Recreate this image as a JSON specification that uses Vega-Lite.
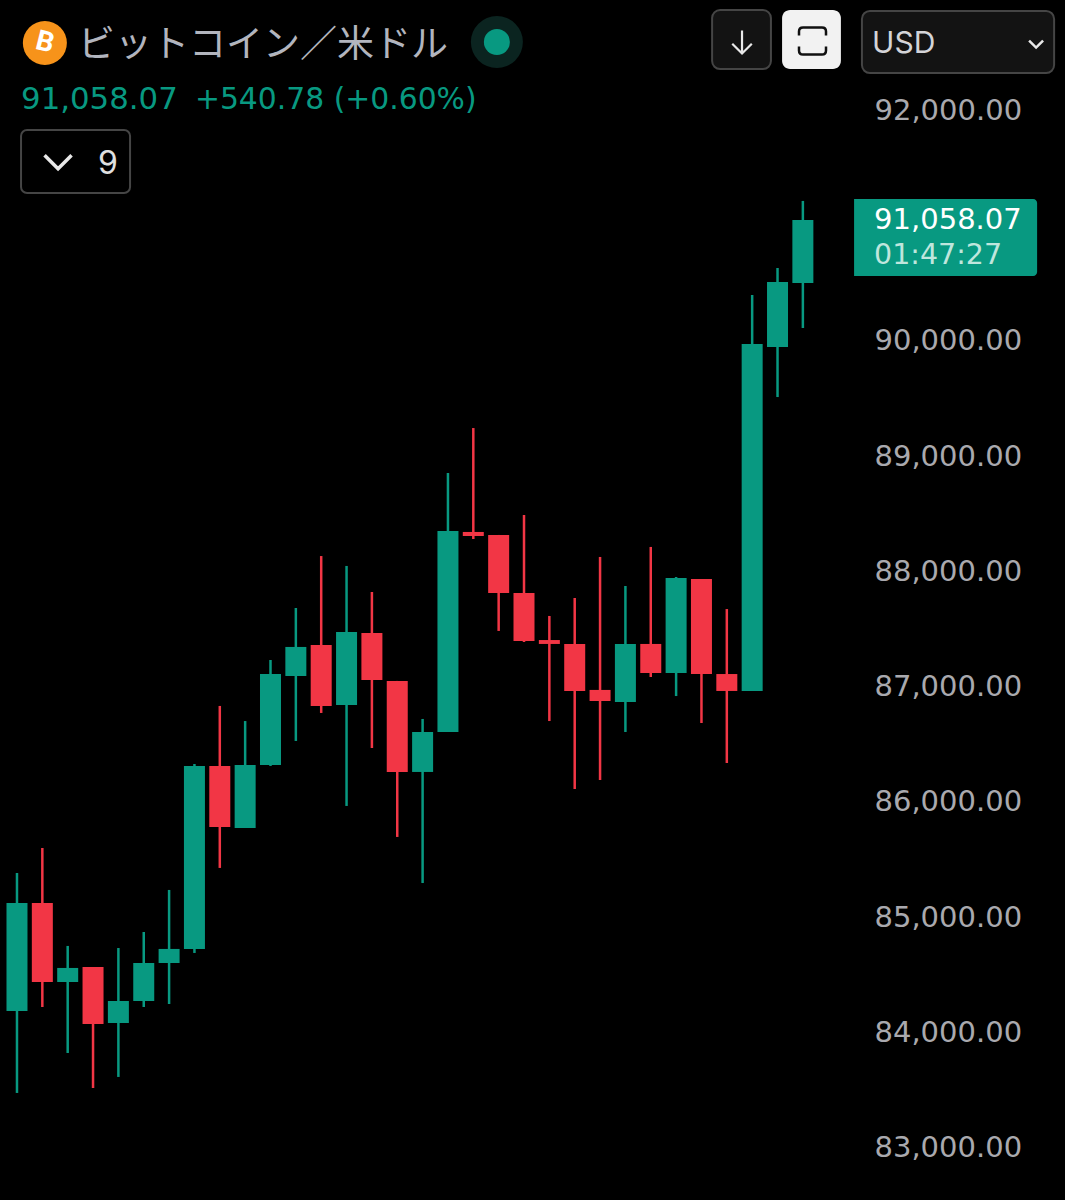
{
  "$schema": "https://vega.github.io/schema/vega-lite/v6.json",
  "width": 1065,
  "height": 1200,
  "autosize": {"type": "none"},
  "padding": 0,
  "background": "#000000",
  "view": {"stroke": null},
  "title": {
    "text": "ビットコイン／米ドル",
    "anchor": "start",
    "frame": "group",
    "orient": "top",
    "offset": 0,
    "dx": 78,
    "dy": 83,
    "baseline": "middle",
    "font": "Noto Sans CJK JP",
    "fontSize": 37,
    "fontWeight": "normal",
    "color": "#b2b5be"
  },
  "datasets": {
    "candles": [
      {"t": 0, "open": 84172, "high": 85369, "low": 83460, "close": 85109},
      {"t": 1, "open": 85109, "high": 85586, "low": 84206, "close": 84423},
      {"t": 2, "open": 84423, "high": 84736, "low": 83807, "close": 84545},
      {"t": 3, "open": 84553, "high": 84553, "low": 83503, "close": 84059},
      {"t": 4, "open": 84067, "high": 84718, "low": 83599, "close": 84258},
      {"t": 5, "open": 84258, "high": 84857, "low": 84206, "close": 84588},
      {"t": 6, "open": 84588, "high": 85222, "low": 84232, "close": 84710},
      {"t": 7, "open": 84710, "high": 86315, "low": 84675, "close": 86298},
      {"t": 8, "open": 86298, "high": 86819, "low": 85413, "close": 85768},
      {"t": 9, "open": 85760, "high": 86688, "low": 85760, "close": 86307},
      {"t": 10, "open": 86307, "high": 87218, "low": 86298, "close": 87096},
      {"t": 11, "open": 87079, "high": 87669, "low": 86515, "close": 87331},
      {"t": 12, "open": 87348, "high": 88120, "low": 86758, "close": 86819},
      {"t": 13, "open": 86827, "high": 88034, "low": 85951, "close": 87461},
      {"t": 14, "open": 87452, "high": 87808, "low": 86454, "close": 87044},
      {"t": 15, "open": 87036, "high": 87036, "low": 85682, "close": 86246},
      {"t": 16, "open": 86246, "high": 86706, "low": 85282, "close": 86593},
      {"t": 17, "open": 86593, "high": 88841, "low": 86593, "close": 88337},
      {"t": 18, "open": 88329, "high": 89231, "low": 88268, "close": 88294},
      {"t": 19, "open": 88303, "high": 88303, "low": 87470, "close": 87799},
      {"t": 20, "open": 87799, "high": 88476, "low": 87374, "close": 87383},
      {"t": 21, "open": 87391, "high": 87600, "low": 86688, "close": 87357},
      {"t": 22, "open": 87357, "high": 87756, "low": 86098, "close": 86949},
      {"t": 23, "open": 86958, "high": 88112, "low": 86176, "close": 86862},
      {"t": 24, "open": 86853, "high": 87860, "low": 86593, "close": 87357},
      {"t": 25, "open": 87357, "high": 88199, "low": 87070, "close": 87105},
      {"t": 26, "open": 87105, "high": 87938, "low": 86905, "close": 87930},
      {"t": 27, "open": 87921, "high": 87921, "low": 86671, "close": 87096},
      {"t": 28, "open": 87096, "high": 87660, "low": 86324, "close": 86949},
      {"t": 29, "open": 86949, "high": 90386, "low": 86949, "close": 89960},
      {"t": 30, "open": 89934, "high": 90620, "low": 89500, "close": 90499},
      {"t": 31, "open": 90490, "high": 91202, "low": 90099, "close": 91037}
    ]
  },
  "layer": [
    {
      "data": {"name": "candles"},
      "mark": {"type": "rule", "strokeWidth": 2.5},
      "encoding": {
        "x": {"field": "t", "type": "quantitative", "axis": null, "scale": {"domain": [-0.67, 41.34], "padding": 0}},
        "y": {
          "field": "low",
          "type": "quantitative",
          "scale": {"domain": [82531, 92946]},
          "axis": {
            "orient": "right",
            "offset": -191,
            "title": null,
            "values": [83000, 84000, 85000, 86000, 87000, 88000, 89000, 90000, 91000, 92000],
            "format": ",.2f",
            "domain": false,
            "ticks": false,
            "grid": false,
            "labelPadding": 0,
            "labelAlign": "left",
            "labelOffset": 1.5,
            "labelFont": "DejaVu Sans",
            "labelFontSize": 29,
            "labelColor": "#a9a9ae"
          }
        },
        "y2": {"field": "high"},
        "color": {"condition": {"test": "datum.close >= datum.open", "value": "#089981"}, "value": "#f23645"}
      }
    },
    {
      "data": {"name": "candles"},
      "mark": {"type": "bar", "size": 21},
      "encoding": {
        "x": {"field": "t", "type": "quantitative", "axis": null, "scale": {"domain": [-0.67, 41.34], "padding": 0}},
        "y": {"field": "open", "type": "quantitative", "scale": {"domain": [82531, 92946]}},
        "y2": {"field": "close"},
        "color": {"condition": {"test": "datum.close >= datum.open", "value": "#089981"}, "value": "#f23645"}
      }
    },
    {
      "data": {"values": [{"label": "logo"}]},
      "mark": {"type": "point", "shape": "circle", "filled": true, "size": 1936, "color": "#f7931a", "opacity": 1},
      "encoding": {
        "x": {"datum": 1.10, "type": "quantitative", "axis": null, "scale": {"domain": [-0.67, 41.34], "padding": 0}},
        "y": {"datum": 92573, "type": "quantitative", "scale": {"domain": [82531, 92946]}}
      }
    },
    {
      "data": {"values": [{"label": "B"}]},
      "mark": {"type": "text", "font": "Roboto", "fontWeight": "bold", "fontSize": 28, "angle": 14, "color": "#ffffff", "align": "center", "baseline": "middle"},
      "encoding": {
        "x": {"datum": 1.10, "type": "quantitative", "axis": null, "scale": {"domain": [-0.67, 41.34], "padding": 0}},
        "y": {"datum": 92573, "type": "quantitative", "scale": {"domain": [82531, 92946]}},
        "text": {"field": "label"}
      }
    },
    {
      "data": {"values": [{"label": "live halo"}]},
      "mark": {"type": "point", "shape": "circle", "filled": true, "size": 2704, "color": "#0b2420", "opacity": 1},
      "encoding": {
        "x": {"datum": 18.93, "type": "quantitative", "axis": null, "scale": {"domain": [-0.67, 41.34], "padding": 0}},
        "y": {"datum": 92581, "type": "quantitative", "scale": {"domain": [82531, 92946]}}
      }
    },
    {
      "data": {"values": [{"label": "live dot"}]},
      "mark": {"type": "point", "shape": "circle", "filled": true, "size": 676, "color": "#089981", "opacity": 1},
      "encoding": {
        "x": {"datum": 18.93, "type": "quantitative", "axis": null, "scale": {"domain": [-0.67, 41.34], "padding": 0}},
        "y": {"datum": 92581, "type": "quantitative", "scale": {"domain": [82531, 92946]}}
      }
    },
    {
      "data": {"values": [{"label": "91,058.07"}]},
      "mark": {"type": "text", "font": "DejaVu Sans", "fontSize": 30.8, "color": "#089981", "align": "left", "baseline": "middle", "dy": 1.5},
      "encoding": {
        "x": {"datum": 0.16, "type": "quantitative", "axis": null, "scale": {"domain": [-0.67, 41.34], "padding": 0}},
        "y": {"datum": 92095, "type": "quantitative", "scale": {"domain": [82531, 92946]}},
        "text": {"field": "label"}
      }
    },
    {
      "data": {"values": [{"label": "+540.78 (+0.60%)"}]},
      "mark": {"type": "text", "font": "DejaVu Sans", "fontSize": 29.8, "color": "#089981", "align": "left", "baseline": "middle", "dy": 1.5},
      "encoding": {
        "x": {"datum": 7.02, "type": "quantitative", "axis": null, "scale": {"domain": [-0.67, 41.34], "padding": 0}},
        "y": {"datum": 92095, "type": "quantitative", "scale": {"domain": [82531, 92946]}},
        "text": {"field": "label"}
      }
    },
    {
      "data": {"values": [{"label": "indicator box"}]},
      "mark": {"type": "rect", "fill": "#000000", "stroke": "#454545", "strokeWidth": 2, "cornerRadius": 6},
      "encoding": {
        "x": {"datum": 0.16, "type": "quantitative", "axis": null, "scale": {"domain": [-0.67, 41.34], "padding": 0}},
        "x2": {"datum": 4.46},
        "y": {"datum": 91818, "type": "quantitative", "scale": {"domain": [82531, 92946]}},
        "y2": {"datum": 91271}
      }
    },
    {
      "data": {"values": [{"label": "indicator chevron"}]},
      "mark": {"type": "point", "shape": "M-1,-0.5 L0,0.5 L1,-0.5", "filled": false, "size": 729, "stroke": "#e8e8e8", "strokeWidth": 3.5, "opacity": 1},
      "encoding": {
        "x": {"datum": 1.62, "type": "quantitative", "axis": null, "scale": {"domain": [-0.67, 41.34], "padding": 0}},
        "y": {"datum": 91540, "type": "quantitative", "scale": {"domain": [82531, 92946]}}
      }
    },
    {
      "data": {"values": [{"label": "9"}]},
      "mark": {"type": "text", "font": "Inter", "fontSize": 32, "color": "#e0e0e0", "align": "center", "baseline": "middle", "dy": 2},
      "encoding": {
        "x": {"datum": 3.59, "type": "quantitative", "axis": null, "scale": {"domain": [-0.67, 41.34], "padding": 0}},
        "y": {"datum": 91540, "type": "quantitative", "scale": {"domain": [82531, 92946]}},
        "text": {"field": "label"}
      }
    },
    {
      "data": {"values": [{"label": "scroll button"}]},
      "mark": {"type": "rect", "fill": "#131313", "stroke": "#454545", "strokeWidth": 2, "cornerRadius": 8},
      "encoding": {
        "x": {"datum": 27.42, "type": "quantitative", "axis": null, "scale": {"domain": [-0.67, 41.34], "padding": 0}},
        "x2": {"datum": 29.74},
        "y": {"datum": 92859, "type": "quantitative", "scale": {"domain": [82531, 92946]}},
        "y2": {"datum": 92347}
      }
    },
    {
      "data": {"values": [{"label": "down arrow"}]},
      "mark": {"type": "point", "shape": "M0,-1 L0,1 M-0.85,0.15 L0,1 L0.85,0.15", "filled": false, "size": 529, "stroke": "#e8e8e8", "strokeWidth": 2.2, "opacity": 1},
      "encoding": {
        "x": {"datum": 28.6, "type": "quantitative", "axis": null, "scale": {"domain": [-0.67, 41.34], "padding": 0}},
        "y": {"datum": 92581, "type": "quantitative", "scale": {"domain": [82531, 92946]}}
      }
    },
    {
      "data": {"values": [{"label": "focus button"}]},
      "mark": {"type": "rect", "fill": "#f2f2f2", "cornerRadius": 8},
      "encoding": {
        "x": {"datum": 30.18, "type": "quantitative", "axis": null, "scale": {"domain": [-0.67, 41.34], "padding": 0}},
        "x2": {"datum": 32.5},
        "y": {"datum": 92859, "type": "quantitative", "scale": {"domain": [82531, 92946]}},
        "y2": {"datum": 92347}
      }
    },
    {
      "data": {"values": [{"label": "focus icon"}]},
      "mark": {"type": "point", "shape": "M-1,-0.4 L-1,-0.7 Q-1,-1 -0.7,-1 L0.7,-1 Q1,-1 1,-0.7 L1,-0.4 M-1,0.4 L-1,0.7 Q-1,1 -0.7,1 L0.7,1 Q1,1 1,0.7 L1,0.4", "filled": false, "size": 729, "stroke": "#111111", "strokeWidth": 2.5, "opacity": 1},
      "encoding": {
        "x": {"datum": 31.38, "type": "quantitative", "axis": null, "scale": {"domain": [-0.67, 41.34], "padding": 0}},
        "y": {"datum": 92590, "type": "quantitative", "scale": {"domain": [82531, 92946]}}
      }
    },
    {
      "data": {"values": [{"label": "currency box"}]},
      "mark": {"type": "rect", "fill": "#131313", "stroke": "#454545", "strokeWidth": 2, "cornerRadius": 8},
      "encoding": {
        "x": {"datum": 33.33, "type": "quantitative", "axis": null, "scale": {"domain": [-0.67, 41.34], "padding": 0}},
        "x2": {"datum": 40.91},
        "y": {"datum": 92851, "type": "quantitative", "scale": {"domain": [82531, 92946]}},
        "y2": {"datum": 92312}
      }
    },
    {
      "data": {"values": [{"label": "USD"}]},
      "mark": {"type": "text", "font": "Inter", "fontSize": 30, "color": "#d4d4d8", "align": "left", "baseline": "middle", "dy": 2},
      "encoding": {
        "x": {"datum": 33.73, "type": "quantitative", "axis": null, "scale": {"domain": [-0.67, 41.34], "padding": 0}},
        "y": {"datum": 92581, "type": "quantitative", "scale": {"domain": [82531, 92946]}},
        "text": {"field": "label"}
      }
    },
    {
      "data": {"values": [{"label": "currency chevron"}]},
      "mark": {"type": "point", "shape": "M-1,-0.5 L0,0.5 L1,-0.5", "filled": false, "size": 196, "stroke": "#e8e8e8", "strokeWidth": 2.5, "opacity": 1},
      "encoding": {
        "x": {"datum": 40.2, "type": "quantitative", "axis": null, "scale": {"domain": [-0.67, 41.34], "padding": 0}},
        "y": {"datum": 92564, "type": "quantitative", "scale": {"domain": [82531, 92946]}}
      }
    },
    {
      "data": {"values": [{"label": "price tag"}]},
      "mark": {"type": "rect", "fill": "#089981", "cornerRadiusTopRight": 4, "cornerRadiusBottomRight": 4},
      "encoding": {
        "x": {"datum": 33.02, "type": "quantitative", "axis": null, "scale": {"domain": [-0.67, 41.34], "padding": 0}},
        "x2": {"datum": 40.24},
        "y": {"datum": 91219, "type": "quantitative", "scale": {"domain": [82531, 92946]}},
        "y2": {"datum": 90551}
      }
    },
    {
      "data": {"values": [{"label": "91,058.07"}]},
      "mark": {"type": "text", "font": "DejaVu Sans", "fontSize": 29, "color": "#ffffff", "align": "left", "baseline": "middle", "dy": 0.5},
      "encoding": {
        "x": {"datum": 33.81, "type": "quantitative", "axis": null, "scale": {"domain": [-0.67, 41.34], "padding": 0}},
        "y": {"datum": 91045, "type": "quantitative", "scale": {"domain": [82531, 92946]}},
        "text": {"field": "label"}
      }
    },
    {
      "data": {"values": [{"label": "01:47:27"}]},
      "mark": {"type": "text", "font": "DejaVu Sans", "fontSize": 28.5, "color": "#bfe6dd", "align": "left", "baseline": "middle", "dy": 1.5},
      "encoding": {
        "x": {"datum": 33.81, "type": "quantitative", "axis": null, "scale": {"domain": [-0.67, 41.34], "padding": 0}},
        "y": {"datum": 90750, "type": "quantitative", "scale": {"domain": [82531, 92946]}},
        "text": {"field": "label"}
      }
    }
  ]
}
